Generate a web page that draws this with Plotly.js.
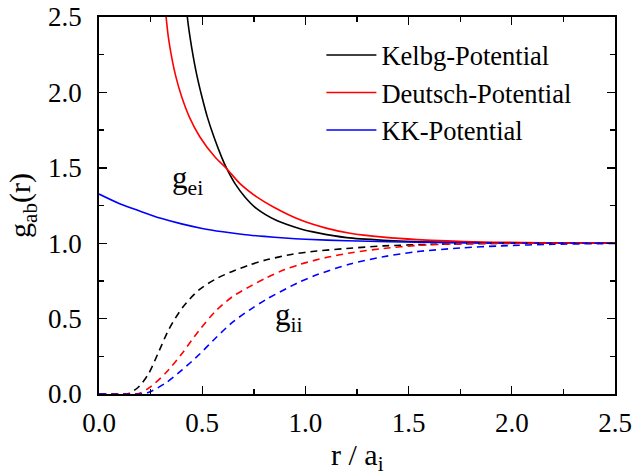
<!DOCTYPE html>
<html>
<head>
<meta charset="utf-8">
<script src="https://cdn.plot.ly/plotly-3.0.1.min.js"></script>
<style>html,body{margin:0;padding:0;background:#fff;}#chart{width:633px;height:472px;}</style>
</head>
<body>
<div id="chart"></div>
<script>
// g_ei (solid) curves
const kelbgEiX = [0.42, 0.428, 0.441, 0.457, 0.476, 0.499, 0.525, 0.557, 0.594, 0.619, 0.659, 0.707, 0.764, 0.861, 0.974, 1.055, 1.2, 1.378, 1.62, 1.9, 2.2, 2.5];
const kelbgEiY = [2.65, 2.5, 2.366, 2.234, 2.101, 1.969, 1.836, 1.704, 1.571, 1.494, 1.395, 1.307, 1.229, 1.15, 1.096, 1.07, 1.037, 1.02, 1.008, 1.002, 1.001, 1.0];
const deutschEiX = [0.315, 0.325, 0.336, 0.352, 0.373, 0.401, 0.438, 0.489, 0.562, 0.619, 0.683, 0.764, 0.845, 0.974, 1.1, 1.216, 1.378, 1.54, 1.86, 2.2, 2.5];
const deutschEiY = [2.62, 2.5, 2.366, 2.234, 2.101, 1.969, 1.836, 1.704, 1.571, 1.494, 1.395, 1.307, 1.24, 1.155, 1.1, 1.066, 1.04, 1.024, 1.008, 1.003, 1.001];
const kkEiX = [0, 0.1, 0.2, 0.3, 0.4, 0.5, 0.6, 0.7, 0.8, 0.9, 1.0, 1.2, 1.4, 1.7, 2.0, 2.5];
const kkEiY = [1.326, 1.262, 1.212, 1.165, 1.128, 1.098, 1.076, 1.058, 1.045, 1.034, 1.026, 1.016, 1.01, 1.004, 1.001, 1.0];
// g_ii (dashed) curves
const kelbgIiX = [0, 0.1, 0.145, 0.194, 0.242, 0.291, 0.339, 0.404, 0.484, 0.565, 0.646, 0.727, 0.807, 0.937, 1.055, 1.2, 1.378, 1.62, 2.0, 2.5];
const kelbgIiY = [0, 0, 0.004, 0.05, 0.139, 0.285, 0.43, 0.572, 0.69, 0.762, 0.813, 0.855, 0.888, 0.927, 0.948, 0.965, 0.982, 0.993, 0.999, 1.0];
const deutschIiX = [0, 0.15, 0.194, 0.242, 0.323, 0.404, 0.484, 0.565, 0.646, 0.73, 0.81, 0.9, 0.974, 1.1, 1.216, 1.378, 1.54, 1.75, 2.0, 2.5];
const deutschIiY = [0, 0, 0.004, 0.04, 0.139, 0.272, 0.42, 0.55, 0.645, 0.712, 0.77, 0.825, 0.86, 0.905, 0.935, 0.965, 0.985, 0.996, 1.0, 1.0];
const kkIiX = [0, 0.2, 0.242, 0.323, 0.404, 0.484, 0.565, 0.646, 0.727, 0.807, 0.937, 0.974, 1.055, 1.216, 1.378, 1.54, 1.75, 1.943, 2.2, 2.5];
const kkIiY = [0, 0, 0.011, 0.073, 0.161, 0.26, 0.371, 0.475, 0.555, 0.625, 0.72, 0.745, 0.79, 0.862, 0.91, 0.944, 0.968, 0.982, 0.993, 0.998];

const seriesNames = ['Kelbg-Potential', 'Deutsch-Potential', 'KK-Potential'];
const colors = ['#000000', '#ff0000', '#0000ff'];
const xTicks = [0, 0.5, 1.0, 1.5, 2.0, 2.5];
const xTickText = ['0.0', '0.5', '1.0', '1.5', '2.0', '2.5'];
const yTicks = [0, 0.5, 1.0, 1.5, 2.0, 2.5];
const yTickText = ['0.0', '0.5', '1.0', '1.5', '2.0', '2.5'];
const xTitle = 'r / a<sub>i</sub>';
const yTitle = 'g<sub>ab</sub>(r)';

const FONT = 'Liberation Serif, Times New Roman, serif';
const solid = [[kelbgEiX, kelbgEiY], [deutschEiX, deutschEiY], [kkEiX, kkEiY]];
const dashed = [[kelbgIiX, kelbgIiY], [deutschIiX, deutschIiY], [kkIiX, kkIiY]];

const traces = [];
solid.forEach((d, i) => traces.push({
  x: d[0], y: d[1], type: 'scatter', mode: 'lines', name: seriesNames[i],
  line: {color: colors[i], width: 1.6, shape: 'spline', smoothing: 0.8}, showlegend: true
}));
dashed.forEach((d, i) => traces.push({
  x: d[0], y: d[1], type: 'scatter', mode: 'lines', name: seriesNames[i] + ' (ii)',
  line: {color: colors[i], width: 1.6, dash: '7px,5px', shape: 'spline', smoothing: 0.8}, showlegend: false
}));

const axisCommon = {
  showgrid: false, zeroline: false, showline: true, linecolor: '#000', linewidth: 1.8,
  mirror: 'ticks', ticks: 'inside', ticklen: 8, tickwidth: 1.4, tickcolor: '#000',
  tickfont: {family: FONT, size: 27, color: '#000'},
  minor: {ticks: 'inside', ticklen: 5, tickwidth: 1.4, tickcolor: '#000', dtick: 0.25, showgrid: false}
};

const layout = {
  width: 633, height: 472,
  margin: {l: 99, r: 18, t: 17, b: 78},
  paper_bgcolor: '#fff', plot_bgcolor: '#fff',
  font: {family: FONT, color: '#000', size: 26},
  xaxis: Object.assign({}, axisCommon, {
    range: [0, 2.5], tickvals: xTicks, ticktext: xTickText, ticklabelstandoff: 4
  }),
  yaxis: Object.assign({}, axisCommon, {
    range: [0, 2.5], tickvals: yTicks, ticktext: yTickText, ticklabelstandoff: 10,
    title: {text: yTitle, font: {family: FONT, size: 30, color: '#000'}, standoff: 8}
  }),
  legend: {
    x: 0.431, y: 0.962, xanchor: 'left', yanchor: 'top', bgcolor: 'rgba(0,0,0,0)', borderwidth: 0,
    font: {family: FONT, size: 26.5, color: '#000'}, tracegroupgap: 0, itemwidth: 50
  },
  annotations: [
    {x: 0.5, y: -0.166, xref: 'paper', yref: 'paper', xanchor: 'center', yanchor: 'middle',
     text: xTitle, showarrow: false, font: {family: FONT, size: 30, color: '#000'}},
    {x: 0.43, y: 1.42, xref: 'x', yref: 'y', text: 'g<sub>ei</sub>', showarrow: false,
     font: {family: FONT, size: 31, color: '#000'}},
    {x: 0.92, y: 0.51, xref: 'x', yref: 'y', text: 'g<sub>ii</sub>', showarrow: false,
     font: {family: FONT, size: 31, color: '#000'}}
  ],
  showlegend: true
};

Plotly.newPlot('chart', traces, layout, {staticPlot: true, displayModeBar: false});
</script>
</body>
</html>
